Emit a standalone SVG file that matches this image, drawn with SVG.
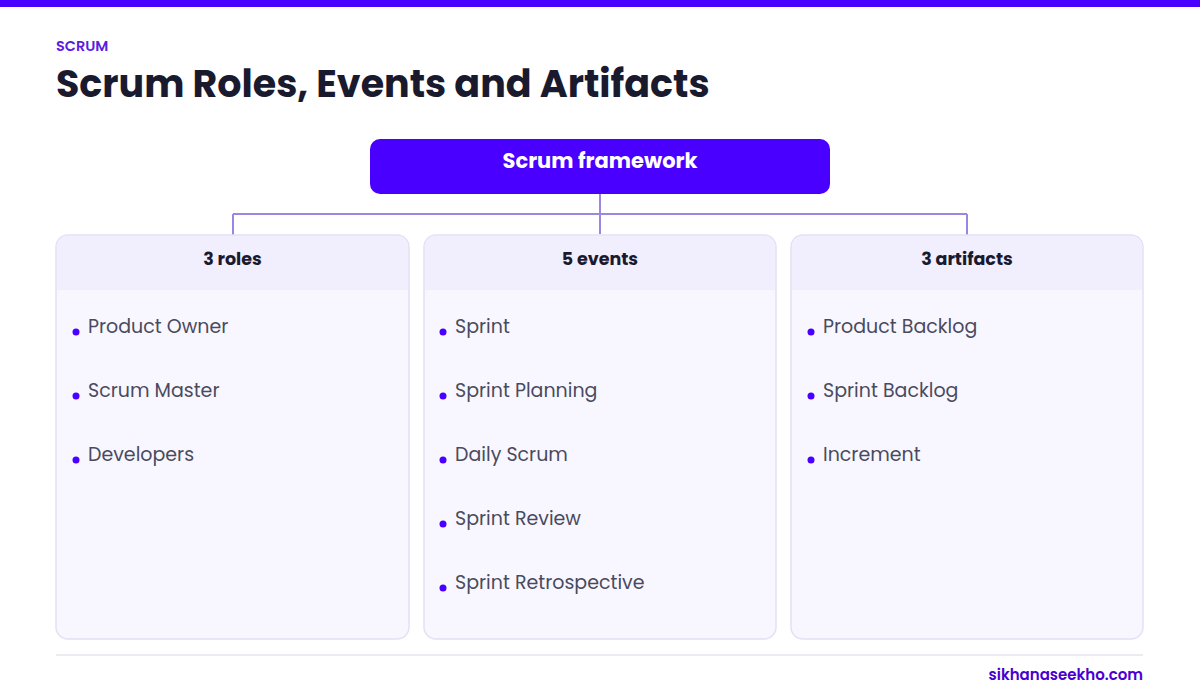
<svg xmlns="http://www.w3.org/2000/svg" width="1200" height="700" viewBox="0 0 1200 700">
<style>
text{font-family:"Poppins","Inter","Noto Sans","Liberation Sans",sans-serif}
.card{fill:#f8f7ff;stroke:#e4e0f5;stroke-width:1.5}
.band{fill:#f1eefe}
.hd{font-size:17.5px;font-weight:700;fill:#1a1a2e;text-anchor:middle}
.it{font-size:19px;font-weight:400;fill:#4a4a5e}
.dot{fill:#4a00ff}
.conn{stroke:#9b87e0;stroke-width:2;fill:none}
</style>
<rect width="1200" height="700" fill="#ffffff"/>
<rect x="0" y="0" width="1200" height="7" fill="#4a00ff"/>
<text x="56" y="51" font-size="14.5" font-weight="600" fill="#5a1ee0">SCRUM</text>
<text x="56" y="97" font-size="38" font-weight="700" fill="#1a1a2e">Scrum Roles, Events and Artifacts</text>
<g id="connectors">
<path class="conn" d="M600 194V234M233 214H967M233 214V235M967 214V235"/>
</g>
<g id="framework">
<rect x="370" y="139" width="460" height="55" rx="10" fill="#4a00ff"/>
<text x="600" y="168" font-size="21" font-weight="700" fill="#ffffff" text-anchor="middle">Scrum framework</text>
</g>
<g id="roles">
<rect class="card" x="56" y="235" width="353" height="404" rx="12"/>
<path class="band" d="M57 290V247a11 11 0 0 1 11-11H397a11 11 0 0 1 11 11V290Z"/>
<text class="hd" x="232.5" y="265">3 roles</text>
<circle class="dot" cx="76" cy="332" r="3.5"/><text class="it" x="88" y="333">Product Owner</text>
<circle class="dot" cx="76" cy="396" r="3.5"/><text class="it" x="88" y="397">Scrum Master</text>
<circle class="dot" cx="76" cy="460" r="3.5"/><text class="it" x="88" y="461">Developers</text>
</g>
<g id="events">
<rect class="card" x="424" y="235" width="352" height="404" rx="12"/>
<path class="band" d="M425 290V247a11 11 0 0 1 11-11H764a11 11 0 0 1 11 11V290Z"/>
<text class="hd" x="600" y="265">5 events</text>
<circle class="dot" cx="443" cy="332" r="3.5"/><text class="it" x="455" y="333">Sprint</text>
<circle class="dot" cx="443" cy="396" r="3.5"/><text class="it" x="455" y="397">Sprint Planning</text>
<circle class="dot" cx="443" cy="460" r="3.5"/><text class="it" x="455" y="461">Daily Scrum</text>
<circle class="dot" cx="443" cy="524" r="3.5"/><text class="it" x="455" y="525">Sprint Review</text>
<circle class="dot" cx="443" cy="588" r="3.5"/><text class="it" x="455" y="589">Sprint Retrospective</text>
</g>
<g id="artifacts">
<rect class="card" x="791" y="235" width="352" height="404" rx="12"/>
<path class="band" d="M792 290V247a11 11 0 0 1 11-11H1131a11 11 0 0 1 11 11V290Z"/>
<text class="hd" x="967" y="265">3 artifacts</text>
<circle class="dot" cx="811" cy="332" r="3.5"/><text class="it" x="823" y="333">Product Backlog</text>
<circle class="dot" cx="811" cy="396" r="3.5"/><text class="it" x="823" y="397">Sprint Backlog</text>
<circle class="dot" cx="811" cy="460" r="3.5"/><text class="it" x="823" y="461">Increment</text>
</g>
<line x1="56" y1="655" x2="1143" y2="655" stroke="#e4e4ec" stroke-width="1.5"/>
<text x="1143" y="680" font-size="15" font-weight="600" fill="#4a00d0" text-anchor="end">sikhanaseekho.com</text>
</svg>
